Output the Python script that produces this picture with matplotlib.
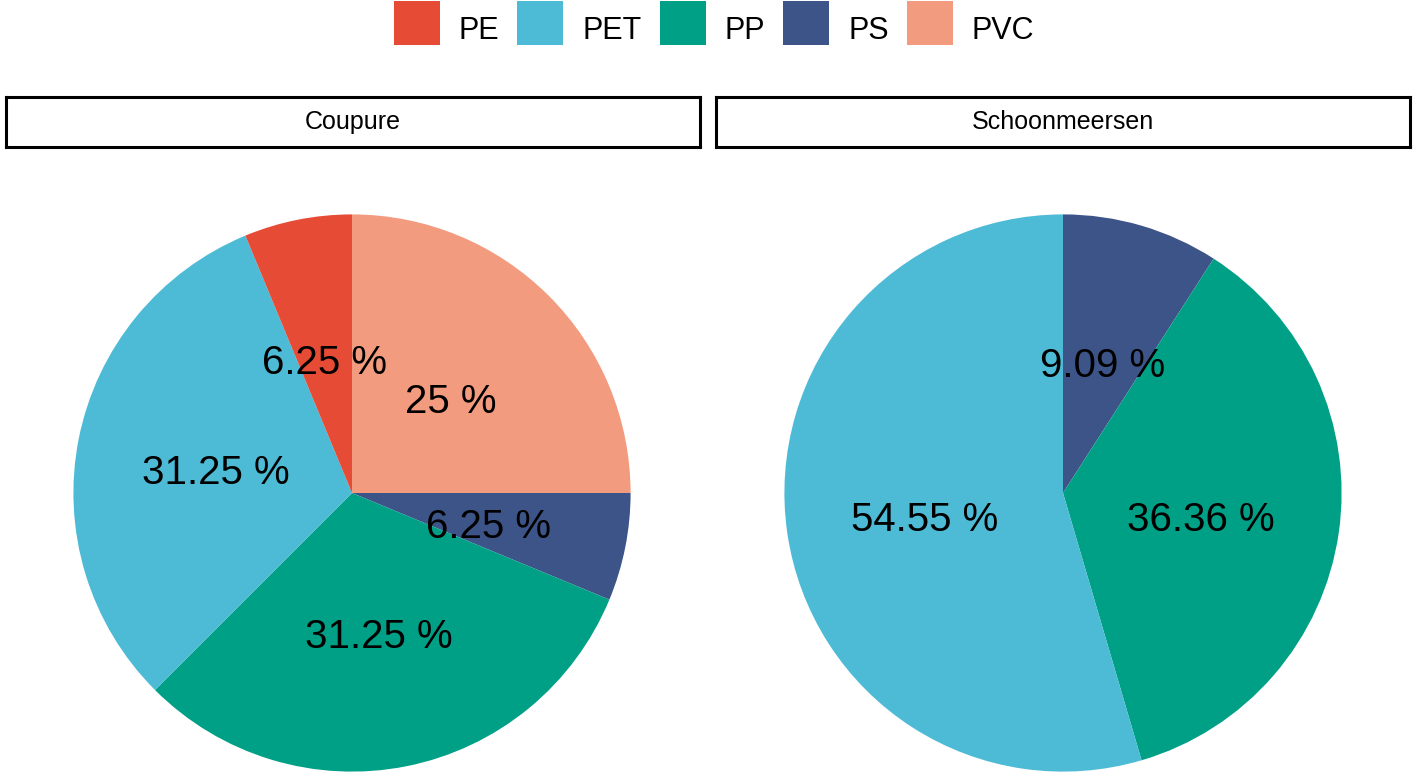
import matplotlib.pyplot as plt
from matplotlib.patches import Rectangle

plt.rcParams['font.family'] = ['Liberation Sans', 'DejaVu Sans']

# Data (percent of particles per polymer type)
POLYMERS = ['PE', 'PET', 'PP', 'PS', 'PVC']
COLORS = ['#E64B35', '#4DBBD5', '#00A087', '#3C5488', '#F39B7F']
SITES = ['Coupure', 'Schoonmeersen']
coupure_pct = [6.25, 31.25, 31.25, 6.25, 25.0]
schoonmeersen_pct = [0.0, 54.55, 36.36, 9.09, 0.0]

W, H = 1416, 776
fig = plt.figure(figsize=(W / 100, H / 100), dpi=100)


def px_axes(x0, y0, x1, y1):
    # axes from pixel box (top-left origin)
    return fig.add_axes([x0 / W, 1 - y1 / H, (x1 - x0) / W, (y1 - y0) / H])


def pie_panel(values, cx, cy, r=280):
    ax = px_axes(cx - r, cy - r, cx + r, cy + r)
    # ggplot polar stacking: clockwise from top, last level first
    vals = values[::-1]
    cols = COLORS[::-1]
    keep = [i for i, v in enumerate(vals) if v > 0]
    vals = [vals[i] for i in keep]
    cols = [cols[i] for i in keep]
    wedges, texts, autotexts = ax.pie(
        vals, colors=cols, startangle=90, counterclock=False, radius=0.995,
        autopct=lambda p: f"{round(p, 2):g} %", pctdistance=0.5,
        wedgeprops=dict(linewidth=0),
        textprops=dict(fontsize=29, color='black'))
    for t in autotexts:
        x, y = t.get_position()
        t.set_position((x, y - 0.025))
    ax.set_xlim(-1, 1)
    ax.set_ylim(-1, 1)
    ax.set_aspect('auto')
    ax.axis('off')
    return ax


def strip(label, x0, x1):
    ax = px_axes(x0, 97, x1, 147)
    ax.set_xticks([])
    ax.set_yticks([])
    for s in ax.spines.values():
        s.set_linewidth(2.2)
        s.set_color('black')
    ax.text(0.5, 0.5, label, ha='center', va='center', fontsize=18,
            transform=ax.transAxes)


strip(SITES[0], 6, 700)
strip(SITES[1], 716, 1410)
pie_panel(coupure_pct, 352, 493)
pie_panel(schoonmeersen_pct, 1063, 493)

# legend drawn by hand in pixel space so key size matches ggplot's
key_w, key_h, key_top = 46, 44, 1
text_gap, col_gap, baseline = 19, 18, 39
renderer = fig.canvas.get_renderer()
labels = [fig.text(0, 0, p, fontsize=22, transform=None, va='baseline') for p in POLYMERS]
widths = [t.get_window_extent(renderer).width for t in labels]
total = sum(key_w + text_gap + w for w in widths) + col_gap * (len(POLYMERS) - 1)
x = 714 - total / 2
for t, w, c in zip(labels, widths, COLORS):
    fig.add_artist(Rectangle((x, H - key_top - key_h), key_w, key_h, facecolor=c,
                             edgecolor='none', transform=None))
    t.set_position((x + key_w + text_gap, H - baseline))
    x += key_w + text_gap + w + col_gap

fig.savefig('out.png', dpi=100)
